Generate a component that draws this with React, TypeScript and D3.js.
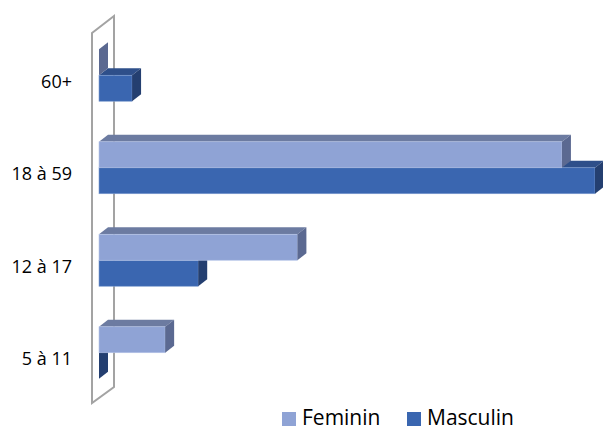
import React from "react";
import * as d3 from "d3";

const categories = ["60+", "18 à 59", "12 à 17", "5 à 11"];
const seriesNames = ["Feminin", "Masculin"];
const feminin = [0, 14, 6, 2];
const masculin = [1, 15, 3, 0];

const W = 603;
const H = 431;

const colors: Record<string, { front: string; top: string; side: string; edge: string }> = {
  Feminin: { front: "#8FA3D5", top: "#6C7BA1", side: "#5B6991", edge: "#B7C5E8" },
  Masculin: { front: "#3A66B0", top: "#2E4F8A", side: "#243F70", edge: "#7F9DD0" },
};

export default function App() {
  const x = d3.scaleLinear().domain([0, 15]).range([99, 595]);
  const y = d3
    .scaleBand<string>()
    .domain(categories)
    .range([29, 399])
    .paddingInner(0.438)
    .paddingOuter(0.219);
  const ys = d3.scaleBand<string>().domain(seriesNames).range([0, y.bandwidth()]);
  const dx = 9;
  const dy = -7;
  const values: Record<string, number[]> = { Feminin: feminin, Masculin: masculin };

  const bars: JSX.Element[] = [];
  categories.forEach((c, i) => {
    ["Masculin", "Feminin"].forEach((s) => {
      const v = values[s][i];
      const x0 = x(0);
      const x1 = x(v);
      const y0 = (y(c) as number) + (ys(s) as number);
      const h = ys.bandwidth();
      const col = colors[s];
      const pts = (arr: number[][]) => arr.map((p) => p.join(",")).join(" ");
      bars.push(
        <g key={c + s}>
          {v > 0 && (
            <polygon
              points={pts([[x0, y0], [x0 + dx, y0 + dy], [x1 + dx, y0 + dy], [x1, y0]])}
              fill={col.top}
            />
          )}
          {v > 0 && (
            <rect x={x0} y={y0} width={x1 - x0} height={h} fill={col.front} stroke={col.edge} strokeWidth={0.6} />
          )}
          <polygon
            points={pts([[x1, y0], [x1 + dx, y0 + dy], [x1 + dx, y0 + h + dy], [x1, y0 + h]])}
            fill={col.side}
          />
        </g>
      );
    });
  });

  const wallFront = 92;
  const wallBack = 114;
  const wallTopF = 33;
  const wallTopB = 16;
  const wallBotF = 403;
  const wallBotB = 387;

  return (
    <svg
      width={W}
      height={H}
      viewBox={`0 0 ${W} ${H}`}
      style={{ position: "absolute", left: 0, top: 0, display: "block", background: "#fff" }}
    >
      <rect x={0} y={0} width={W} height={H} fill="#fff" />
      <polygon
        points={`${wallFront},${wallTopF} ${wallBack},${wallTopB} ${wallBack},${wallBotB} ${wallFront},${wallBotF}`}
        fill="#fff"
        stroke="#A3A3A3"
        strokeWidth={2}
        strokeLinejoin="miter"
      />
      {bars}
      {categories.map((c) => (
        <text
          key={c}
          x={72}
          y={(y(c) as number) + y.bandwidth() / 2 + 7.5}
          textAnchor="end"
          dominantBaseline="middle"
          fontFamily="'Open Sans', 'Noto Sans', sans-serif"
          fontSize={18}
          fill="#000"
        >
          {c}
        </text>
      ))}
      <g fontFamily="'Open Sans', 'Noto Sans', sans-serif" fontSize={21} fill="#000">
        <rect x={282} y={412} width={14} height={14} fill={colors.Feminin.front} />
        <text x={302} y={425}>Feminin</text>
        <rect x={407} y={412} width={14} height={14} fill={colors.Masculin.front} />
        <text x={427} y={425}>Masculin</text>
      </g>
    </svg>
  );
}
